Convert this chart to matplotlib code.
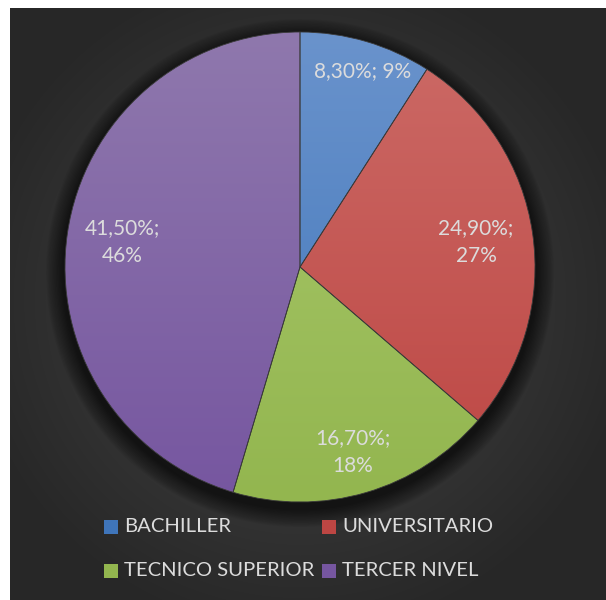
import numpy as np
import matplotlib
matplotlib.use("Agg")
import matplotlib.pyplot as plt
from matplotlib.patches import Rectangle, Ellipse
from matplotlib.colors import to_rgb

# Data
categories = ["BACHILLER", "UNIVERSITARIO", "TECNICO SUPERIOR", "TERCER NIVEL"]
values = [8.30, 24.90, 16.70, 41.50]
value_labels = ["8,30%", "24,90%", "16,70%", "41,50%"]
share_labels = ["9%", "27%", "18%", "46%"]

top_colors = ["#6a93cc", "#cc6a66", "#a9c86c", "#8f78ad"]
bottom_colors = ["#3f75ba", "#bd4643", "#93b64f", "#7656a0"]
text_color = "#dcdcdc"
font = ["Lato", "DejaVu Sans"]

W, H = 606, 600
fig = plt.figure(figsize=(W / 100, H / 100), dpi=100, facecolor="white")
ax = fig.add_axes([0, 0, 1, 1])
ax.set_xlim(0, W)
ax.set_ylim(0, H)
ax.axis("off")

# dark panel with radial gradient
x0, y0, x1, y1 = 10, 0, W, H - 8
yy, xx = np.mgrid[y1:y0:-1, x0:x1]
cx, cy = 300, 300
d = np.sqrt(((xx - cx) / 340.0) ** 2 + ((yy - cy) / 340.0) ** 2)
d = np.clip(d, 0, 1)
c_in = np.array([0x47, 0x47, 0x47]) / 255
c_out = np.array([0x27, 0x27, 0x27]) / 255
img = c_in[None, None, :] * (1 - d[..., None]) + c_out[None, None, :] * d[..., None]
ax.imshow(img, extent=(x0, x1, y0, y1), origin="upper", zorder=0, aspect="auto")

center = (300, H - 267)
radius = 235

# soft shadow under the pie
for i in range(14):
    r = radius + 2 + i * 1.3
    sh = Ellipse((center[0], center[1] - 6), 2 * r, 2 * r, facecolor="black",
                 edgecolor="none", alpha=0.05, zorder=1)
    ax.add_patch(sh)

wedges, _ = ax.pie(values, center=center, radius=radius, startangle=90,
                   counterclock=False,
                   wedgeprops=dict(linewidth=0.6, edgecolor="#3a3a3a"),
                   frame=True)
ax.set_xlim(0, W)
ax.set_ylim(0, H)
ax.set_aspect("equal")
ax.axis("off")

# vertical gradient fill inside each wedge
ylo, yhi = center[1] - radius, center[1] + radius
t = np.linspace(0, 1, 256)[:, None]
for w, ct, cb in zip(wedges, top_colors, bottom_colors):
    ct, cb = np.array(to_rgb(ct)), np.array(to_rgb(cb))
    grad = ct[None, None, :] * (1 - t[..., None]) + cb[None, None, :] * t[..., None]
    grad = np.repeat(grad, 2, axis=1)
    im = ax.imshow(grad, extent=(center[0] - radius, center[0] + radius, ylo, yhi),
                   origin="upper", aspect="auto", zorder=2.5)
    im.set_clip_path(w)
    w.set_facecolor("none")
    w.set_zorder(3)

# data labels
label_pos = [(363, 71, False), (476, 242, True), (353, 452, True), (122, 242, True)]
for (px, py, two), v, s in zip(label_pos, value_labels, share_labels):
    txt = f"{v};\n{s}" if two else f"{v}; {s}"
    ax.text(px, H - py, txt, ha="center", va="center", color=text_color,
            fontsize=15, family=font, linespacing=1.55, zorder=5)

# legend
leg = [(111, 527), (329, 527), (111, 571), (329, 571)]
for (lx, ly), name, col in zip(leg, categories, bottom_colors):
    ax.add_patch(Rectangle((lx - 7, H - ly - 7), 14, 14, facecolor=col,
                           edgecolor="none", zorder=5))
    ax.text(lx + 13, H - ly, name, ha="left", va="center", color=text_color,
            fontsize=14.6, family=font, zorder=5)

fig.savefig("out.png", dpi=100, facecolor="white")
